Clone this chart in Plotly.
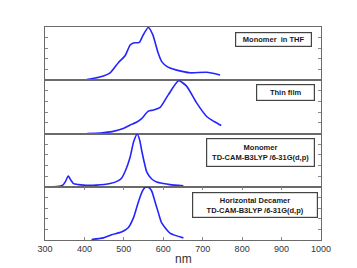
import plotly.graph_objects as go
from plotly.subplots import make_subplots

# Data (wavelength in nm, normalized intensity)
thf_nm = [404, 420, 439, 465, 486, 503, 516, 524, 539, 549, 562, 573, 587, 596, 609, 617, 634, 668, 710, 744]
thf_val = [0.01, 0.03, 0.06, 0.14, 0.33, 0.46, 0.66, 0.70, 0.71, 0.85, 0.99, 0.86, 0.51, 0.35, 0.26, 0.23, 0.19, 0.14, 0.15, 0.10]

film_nm = [407, 440, 473, 500, 516, 532, 545, 562, 575, 592, 613, 639, 659, 685, 710, 730, 747]
film_val = [0.0, 0.01, 0.04, 0.10, 0.16, 0.21, 0.28, 0.42, 0.44, 0.49, 0.73, 0.99, 0.89, 0.57, 0.32, 0.22, 0.15]

mono_nm = [300, 330, 345, 352, 359, 366, 372, 385, 397, 430, 465, 485, 494, 505, 516, 525, 534, 540, 545, 552, 558, 570, 583, 600, 617, 651]
mono_val = [0.0, 0.005, 0.03, 0.1, 0.2, 0.12, 0.06, 0.04, 0.03, 0.03, 0.06, 0.11, 0.16, 0.32, 0.56, 0.85, 0.99, 0.88, 0.69, 0.45, 0.28, 0.15, 0.09, 0.06, 0.04, 0.02]

deca_nm = [418, 448, 469, 494, 511, 524, 537, 548, 554, 562, 570, 579, 588, 596, 617, 651]
deca_val = [0.01, 0.04, 0.10, 0.15, 0.23, 0.41, 0.72, 0.93, 0.99, 0.99, 0.93, 0.72, 0.50, 0.32, 0.13, 0.04]

labels = ["Monomer  in THF", "Thin film", "Monomer<br>TD-CAM-B3LYP /6-31G(d,p)",
          "Horizontal Decamer<br>TD-CAM-B3LYP /6-31G(d,p)"]
x_ticks = [300, 400, 500, 600, 700, 800, 900, 1000]
y_ticks = [0.2, 0.4, 0.6, 0.8]
x_title = "nm"

series = [(thf_nm, thf_val), (film_nm, film_val), (mono_nm, mono_val), (deca_nm, deca_val)]

fig = make_subplots(rows=4, cols=1, shared_xaxes=True, vertical_spacing=0)

for i, (xs, ys) in enumerate(series, start=1):
    fig.add_trace(go.Scatter(x=xs, y=ys, mode="lines",
                             line=dict(color="#2424ff", width=1.6, shape="spline", smoothing=0.6),
                             showlegend=False), row=i, col=1)

frame = "#6a6a6a"
for i in range(1, 5):
    fig.update_yaxes(range=[0, 1.0], tickvals=y_ticks, ticks="inside", ticklen=3,
                     tickcolor="#888", showticklabels=False, showline=True, linecolor=frame,
                     linewidth=1, mirror="ticks", showgrid=False, zeroline=False,
                     automargin=False, row=i, col=1)
    fig.update_xaxes(range=[300, 1000], tickvals=x_ticks, showline=True, linecolor=frame,
                     linewidth=1, mirror=True, showgrid=False, zeroline=False,
                     ticks="inside" if i == 4 else "", ticklen=3, tickcolor="#888",
                     automargin=False, row=i, col=1)
fig.update_xaxes(mirror="ticks", showticklabels=True,
                 tickfont=dict(family="Liberation Sans", size=9, color="#333"),
                 row=4, col=1)

fig.add_annotation(text=x_title, xref="paper", yref="paper", x=0.5, y=0, yshift=-19,
                   xanchor="center", yanchor="middle", showarrow=False,
                   font=dict(family="Liberation Sans", size=12, color="#333"))

# label boxes: (x domain frac, y domain frac, width, height)
boxes = [(0.828, 0.767, 75, 13), (0.871, 0.776, 57, 15), (0.781, 0.64, 107, 27), (0.761, 0.66, 124, 24)]
for i, (lab, (bx, by, bw, bh)) in enumerate(zip(labels, boxes), start=1):
    xr = "x domain" if i == 1 else f"x{i} domain"
    yr = "y domain" if i == 1 else f"y{i} domain"
    fig.add_annotation(text="<b>" + lab + "</b>", xref=xr, yref=yr, x=bx, y=by,
                       xanchor="center", yanchor="middle", showarrow=False,
                       width=bw, height=bh, align="center", valign="middle",
                       font=dict(family="Liberation Sans", size=7.5, color="#1a1a1a"),
                       bordercolor="#444", borderwidth=1.2, borderpad=0, bgcolor="white")

# page body has an 8px default margin, so the figure is sized/offset to compensate
fig.update_layout(width=349, height=260, margin=dict(l=37, r=36, t=19, b=27.5, autoexpand=False),
                  paper_bgcolor="white", plot_bgcolor="white")

fig.write_html("out.html")
